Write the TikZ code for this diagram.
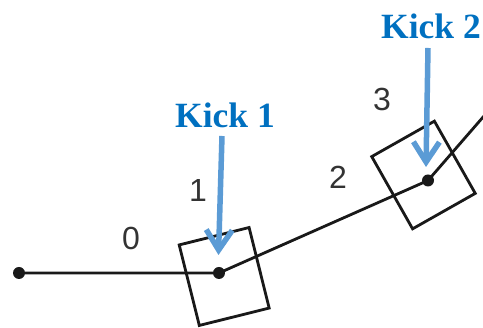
\documentclass[tikz,border=0pt]{standalone}
\usepackage{fontspec}
\setmainfont{Liberation Serif}
\setsansfont{Liberation Sans}
\usetikzlibrary{arrows.meta}
\definecolor{kicktext}{RGB}{0,112,192}
\definecolor{kickarrow}{RGB}{91,155,213}
\tikzset{
  link/.style={line width=2.8pt, black!90},
  dot/.style={circle, fill=black!90, inner sep=0pt, minimum size=12pt},
  cell/.style={draw=black!90, line width=2.8pt, minimum width=72pt, minimum height=83pt, inner sep=0pt},
  idx/.style={font=\sffamily\fontsize{32}{34}\selectfont, text=black!80},
  kicklabel/.style={font=\bfseries\fontsize{35.5}{38}\selectfont, text=kicktext, anchor=base},
  kick/.style={kickarrow, line width=5.5pt, -{Straight Barb[length=20pt, width=26pt, line join=miter]}},
}
\begin{document}
\begin{tikzpicture}[x=1pt, y=1pt]
  \useasboundingbox (0,0) rectangle (483,328);
  % tilted boxes around the kicked joints
  \node[cell, rotate=14] (box1) at (224.2,51.5) {};
  \node[cell, rotate=29.5] (box2) at (423.5,153) {};
  % joints
  \node[dot] (n0) at (19,55) {};
  \node[dot] (n1) at (219,55) {};
  \node[dot] (n2) at (428,147.5) {};
  \coordinate (n3) at (484,212);
  % chain
  \draw[link] (n0.center) -- (n1.center) -- (n2.center) -- (n3);
  % segment indices
  \node[idx] (l0) at (131,90) {0};
  \node[idx] (l1) at (198,138) {1};
  \node[idx] (l2) at (338,151) {2};
  \node[idx] (l3) at (382,229) {3};
  % kicks
  \node[kicklabel] (kick1) at (225,200) {Kick 1};
  \node[kicklabel] (kick2) at (431,289) {Kick 2};
  \coordinate (k1a) at (222,192);
  \coordinate (k1b) at (218.5,73);
  \coordinate (k2a) at (428,280);
  \coordinate (k2b) at (426,161);
  \draw[kick] (k1a) -- (k1b);
  \draw[kick] (k2a) -- (k2b);
\end{tikzpicture}
\end{document}
